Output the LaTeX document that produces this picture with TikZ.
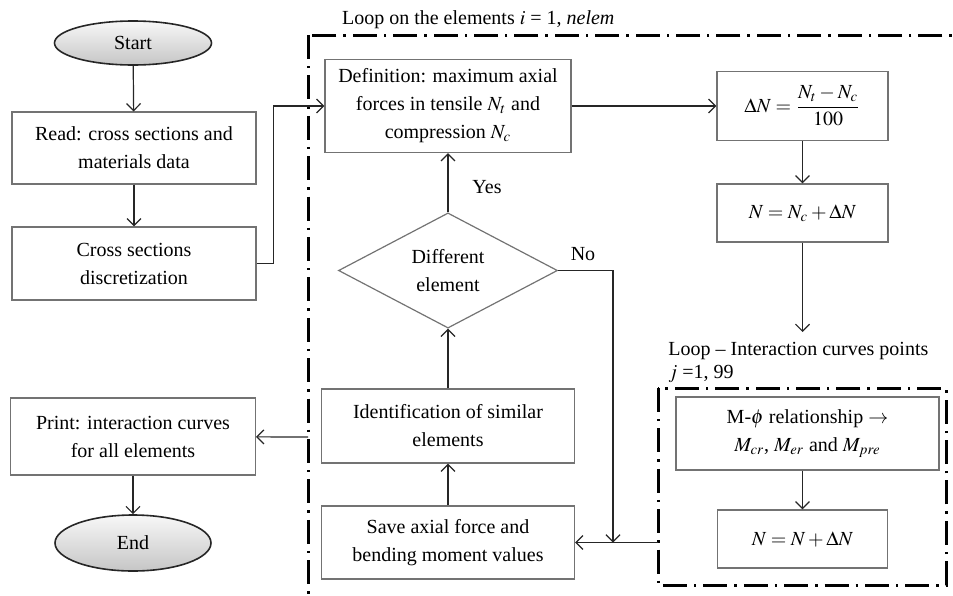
\documentclass[tikz,border=0pt]{standalone}
\usepackage{mathptmx}
\usepackage{fontspec}
\setmainfont{Liberation Serif}
\usetikzlibrary{arrows.meta,shapes.geometric}

\tikzset{
  box/.style={rectangle,draw=black!55,line width=0.6pt,align=center,inner sep=2pt},
  term/.style={ellipse,draw=black!85,line width=0.8pt,top color=gray!6,bottom color=gray!45,inner sep=0pt},
  test/.style={diamond,draw=black!55,line width=0.6pt,align=center,inner sep=0pt},
  loopbox/.style={line width=1.5pt,dash pattern=on 12pt off 3.5pt on 1.2pt off 3.5pt},
  line/.style={draw=black!85,line width=0.6pt},
}

\begin{document}
\begin{tikzpicture}[x=0.5pt,y=-0.5pt,>={Straight Barb[length=3.5pt,width=7pt]},
  font=\fontsize{10pt}{14pt}\selectfont]
\clip (0,0) rectangle (953,595);

% outer and inner loops
\draw[loopbox] (308,35) rectangle (1000,650);
\draw[loopbox] (658,388) rectangle (946,585);
\node at (335,20) [anchor=west] (lblelem) {Loop on the elements $i$ = 1, \textit{nelem}};
\node at (668,342) [anchor=north west,align=left,font=\fontsize{10pt}{11.5pt}\selectfont,inner sep=0pt] (lblpts) {Loop -- Interaction curves points\\$j$ =1, 99};

% left column
\node at (133,43) [term,minimum width=78.5pt,minimum height=22pt] (start) {Start};
\node at (134,148) [box,minimum width=122pt,minimum height=36pt] (read) {Read: cross sections and\\materials data};
\node at (134,263.5) [box,minimum width=122pt,minimum height=36.5pt] (discr) {Cross sections\\discretization};
\node at (133,436.5) [box,minimum width=122.5pt,minimum height=38.5pt] (print) {Print: interaction curves\\for all elements};
\node at (133,543) [term,minimum width=78pt,minimum height=28pt] (end) {End};

% middle column
\node at (448,106) [box,minimum width=123pt,minimum height=46.5pt] (def) {Definition: maximum axial\\forces in tensile $N_t$ and\\compression $N_c$};
\node at (448,270.5) [test,minimum width=109.5pt,minimum height=52.5pt] (diff) {Different\\element};
\node at (448,426) [box,minimum width=126.5pt,minimum height=37pt] (ident) {Identification of similar\\elements};
\node at (448,542.5) [box,minimum width=126.5pt,minimum height=36.5pt] (save) {Save axial force and\\bending moment values};
\node at (487,187) (yes) {Yes};
\node at (583,254) (no) {No};

% right column
\node at (802.5,106) [box,minimum width=85.5pt,minimum height=34.5pt] (dN) {$\Delta N=\displaystyle\frac{N_t-N_c}{100}$};
\node at (802.5,213) [box,minimum width=85.5pt,minimum height=29pt] (Nc) {$N=N_c+\Delta N$};
\node at (807.5,433.5) [box,minimum width=131.5pt,minimum height=36.5pt] (mphi) {M-$\phi$ relationship $\rightarrow$\\$M_{cr}$, $M_{er}$ and $M_{pre}$};
\node at (802.5,539) [box,minimum width=85pt,minimum height=29pt] (Nn) {$N=N+\Delta N$};

\coordinate (down) at (802.5,332);
\coordinate (jn) at (613,542.5);
\coordinate (inL) at (658,542.5);
\coordinate (outL) at (308,437);

\draw[line,->] (start) -- (read);
\draw[line,->] (read) -- (discr);
\draw[line,->] (discr.east) -- ++(17,0) |- (def.west);
\draw[line,->] (def) -- (dN);
\draw[line,->] (dN) -- (Nc);
\draw[line,->] (Nc) -- (down);
\draw[line,->] (Nn.north |- mphi.south) -- (Nn);
\draw[line,->] (inL) -- (save);
\draw[line,->] (diff.east) -| (jn);
\draw[line,->] (save) -- (ident);
\draw[line,->] (ident) -- (diff);
\draw[line,->] (diff) -- (def);
\draw[line,->] (outL) -- (print);
\draw[line,->] (print) -- (end);
\end{tikzpicture}
\end{document}
